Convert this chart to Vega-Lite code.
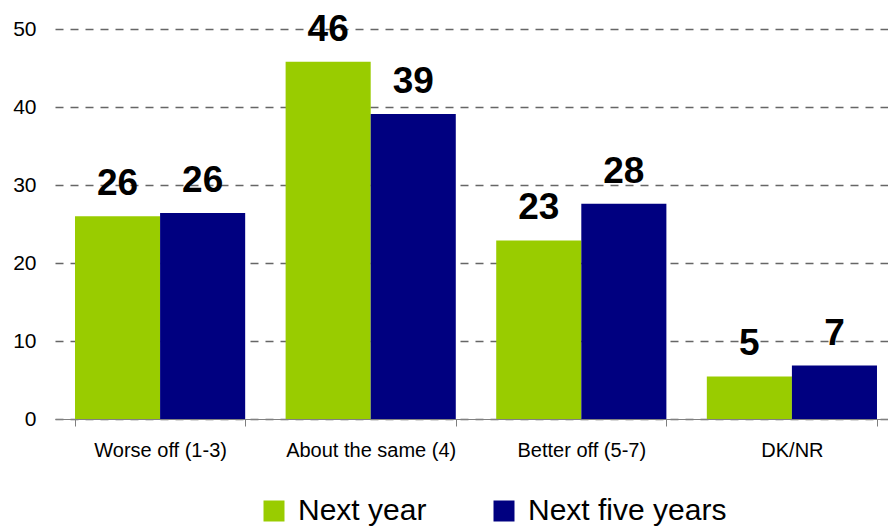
{
  "$schema": "https://vega.github.io/schema/vega-lite/v6.json",
  "width": 833,
  "height": 390,
  "autosize": {"type": "none"},
  "padding": {"left": 55, "top": 29, "right": 0, "bottom": 110},
  "config": {"view": {"stroke": null}, "font": "Liberation Sans, Arial, sans-serif"},
  "data": {
    "values": [
      {"category": "Worse off (1-3)", "series": "Next year", "value": 26.0},
      {"category": "Worse off (1-3)", "series": "Next five years", "value": 26.4},
      {"category": "About the same (4)", "series": "Next year", "value": 45.8},
      {"category": "About the same (4)", "series": "Next five years", "value": 39.1},
      {"category": "Better off (5-7)", "series": "Next year", "value": 22.9},
      {"category": "Better off (5-7)", "series": "Next five years", "value": 27.6},
      {"category": "DK/NR", "series": "Next year", "value": 5.45},
      {"category": "DK/NR", "series": "Next five years", "value": 6.85}
    ]
  },
  "encoding": {
    "x": {
      "field": "category",
      "type": "nominal",
      "sort": ["Worse off (1-3)", "About the same (4)", "Better off (5-7)", "DK/NR"],
      "scale": {"range": [0, 842], "paddingInner": 0.192, "paddingOuter": 0.095},
      "axis": {
        "title": null,
        "labelAngle": 0,
        "grid": false,
        "domainColor": "#808080",
        "tickColor": "#808080",
        "tickSize": 7,
        "tickBand": "extent",
        "labelFontSize": 20,
        "labelColor": "#000000",
        "labelPadding": 14,
        "labelLimit": 300
      }
    },
    "xOffset": {
      "field": "series",
      "type": "nominal",
      "sort": ["Next year", "Next five years"],
      "scale": {"paddingInner": 0, "paddingOuter": 0}
    },
    "y": {
      "field": "value",
      "type": "quantitative",
      "scale": {"domain": [0, 50], "nice": false},
      "axis": {
        "title": null,
        "values": [0, 10, 20, 30, 40, 50],
        "domain": false,
        "ticks": false,
        "tickSize": 0,
        "labelPadding": 19,
        "labelFontSize": 21,
        "labelColor": "#000000",
        "grid": true,
        "gridDash": [8, 7],
        "gridColor": "#666666",
        "gridWidth": 1.5
      }
    }
  },
  "layer": [
    {
      "mark": {"type": "bar"},
      "encoding": {
        "color": {
          "field": "series",
          "type": "nominal",
          "scale": {"domain": ["Next year", "Next five years"], "range": ["#99CC00", "#000080"]},
          "legend": {
            "orient": "none",
            "direction": "horizontal",
            "legendX": 204,
            "legendY": 467,
            "padding": 0,
            "title": null,
            "symbolType": "square",
            "symbolSize": 441,
            "symbolStrokeWidth": 0,
            "symbolOpacity": 1,
            "labelFontSize": 30,
            "labelOffset": 9,
            "columnPadding": 62,
            "labelColor": "#000000",
            "labelLimit": 400
          }
        }
      }
    },
    {
      "mark": {"type": "text", "dy": -21, "baseline": "alphabetic", "fontSize": 37, "fontWeight": "bold", "color": "#000000"},
      "encoding": {
        "text": {"field": "value", "type": "quantitative", "format": ".0f"}
      }
    }
  ]
}
